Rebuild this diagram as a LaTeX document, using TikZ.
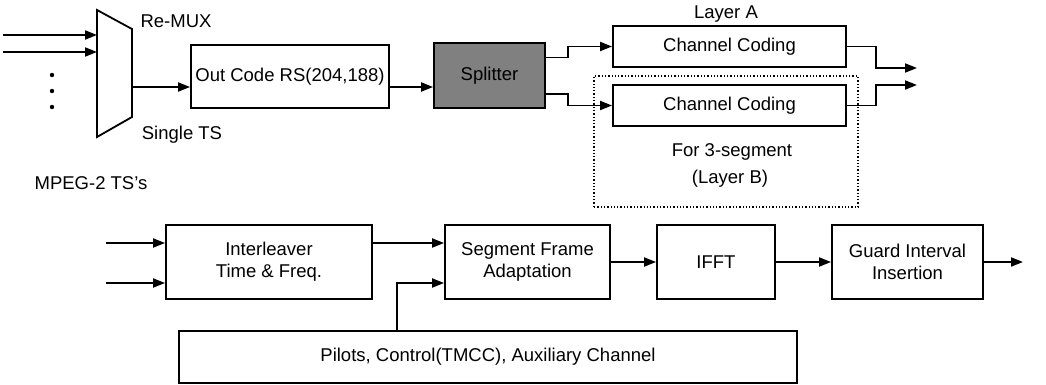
\documentclass[tikz,border=0pt]{standalone}
\usepackage{fontspec}
\setmainfont{Liberation Sans}
\usetikzlibrary{calc,arrows.meta}

\tikzset{
  blk/.style={draw,line width=1.8pt,fill=white,inner sep=0pt,align=center},
  arr/.style={line width=1.8pt,-{Triangle[length=12pt,width=9pt]}},
  wire/.style={line width=1.8pt},
}

\begin{document}
\begin{tikzpicture}[x=1pt,y=-1pt,font=\fontsize{18.5}{22}\selectfont]
\useasboundingbox (0,0) rectangle (1046,385);

\coordinate (in1) at (3,35);
\coordinate (in2) at (3,52);
\coordinate (muxtl) at (97,10);
\coordinate (muxtr) at (132,29);
\coordinate (muxbr) at (132,117);
\coordinate (muxbl) at (97,137);
\coordinate (muxout) at (132,87);

\draw [wire,line join=miter] (muxtl) -- (muxtr) -- (muxbr) -- (muxbl) -- cycle;
\draw [arr] (in1) -- (in1 -| muxtl);
\draw [arr] (in2) -- (in2 -| muxtl);
\fill (52,75) circle (2.2);
\fill (52,91) circle (2.2);
\fill (52,107) circle (2.2);

\node at (176,21) (remux) {Re-MUX};
\node at (182,135) (single) {Single TS};
\node at (91,183) (mpeg) {MPEG-2 TS's};

\node [blk,minimum width=198pt,minimum height=63pt] at (290,76.5) (outcode) {Out Code RS(204,188)};
\node [blk,fill=black!50,text=black,minimum width=111pt,minimum height=65pt] at (489.5,75.5) (split) {Splitter};

\draw [arr] (muxout) -- (muxout -| outcode.west);
\draw [arr] (outcode.east |- muxout) -- (split.west |- muxout);

\node [draw,dotted,line width=1.3pt,minimum width=264pt,minimum height=131pt] at (726,141.5) (grpB) {};
\node [blk,minimum width=233pt,minimum height=41pt] at (729.5,46.5) (ccA) {Channel Coding};
\node [blk,minimum width=233pt,minimum height=41pt] at (729.5,105.5) (ccB) {Channel Coding};
\node at (726,14) (layA) {Layer A};
\node at (732,152) (seg) {For 3-segment};
\node at (730,179) (layB) {(Layer B)};

\draw [arr] ($(split.north east)!0.23!(split.south east)$) -- ++(22,0) |- (ccA.west);
\draw [arr] ($(split.north east)!0.78!(split.south east)$) -- ++(22,0) |- (ccB.west);

\coordinate (outA) at (917,68);
\coordinate (outB) at (917,85);
\draw [arr] (ccA.east) -- ++(29,0) |- (outA);
\draw [arr] (ccB.east) -- ++(29,0) |- (outB);

\node [blk,minimum width=206pt,minimum height=74pt] at (269,262) (inter) {Interleaver\\Time \& Freq.};
\node [blk,minimum width=165pt,minimum height=74pt] at (527.5,262) (sfa) {Segment Frame\\Adaptation};
\node [blk,minimum width=118pt,minimum height=74pt] at (716,262) (ifft) {IFFT};
\node [blk,minimum width=151pt,minimum height=74pt] at (907.5,262) (guard) {Guard Interval\\Insertion};
\node [blk,minimum width=618pt,minimum height=52pt] at (488,357) (pilots) {Pilots, Control(TMCC), Auxiliary Channel};

\coordinate (in3) at (106,243);
\coordinate (in4) at (106,283);
\coordinate (tap) at (397,331);
\coordinate (out) at (1023,262);

\draw [arr] (in3) -- (in3 -| inter.west);
\draw [arr] (in4) -- (in4 -| inter.west);
\draw [arr] (inter.east |- in3) -- (sfa.west |- in3);
\draw [arr] (tap) |- (sfa.west |- in4);
\draw [arr] (sfa) -- (ifft);
\draw [arr] (ifft) -- (guard);
\draw [arr] (guard.east) -- (out);
\end{tikzpicture}
\end{document}
